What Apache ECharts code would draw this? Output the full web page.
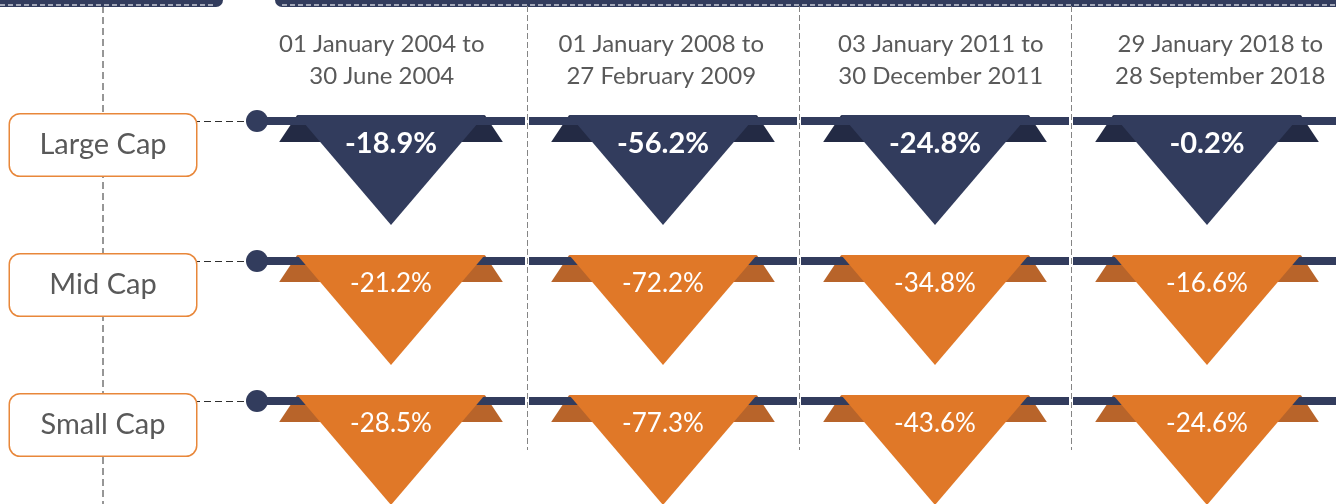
<!DOCTYPE html>
<html lang="en">
<head>
    <meta charset="UTF-8">
    <title>Drawdowns by market cap</title>
    <script src="https://cdn.jsdelivr.net/npm/echarts@6/dist/echarts.min.js"></script>
    <style>
        html, body { margin: 0; padding: 0; background: #fff; overflow: hidden; }
        /* a bit wider than the window so the last column runs off the right edge like the original */
        #chart1 { width: 1360px; height: 504px; }
    </style>
</head>
<body>
<div id="chart1"></div>
<script type="text/javascript">

    var periods = [
        '01 January 2004 to\n30 June 2004',
        '01 January 2008 to\n27 February 2009',
        '03 January 2011 to\n30 December 2011',
        '29 January 2018 to\n28 September 2018'
    ];
    var caps = ['Large Cap', 'Mid Cap', 'Small Cap'];
    var largeCap = [-18.9, -56.2, -24.8, -0.2];
    var midCap = [-21.2, -72.2, -34.8, -16.6];
    var smallCap = [-28.5, -77.3, -43.6, -24.6];

    var NAVY = '#323c5d';
    var NAVY_DARK = '#232a44';
    var ORANGE = '#e07828';
    var ORANGE_DARK = '#b8642a';
    var GREY = '#595959';

    function toCells(values, row) {
        return values.map(function (v, i) { return [i, row, v]; });
    }

    // one inverted "pennant" per cell, hanging from the row line
    function renderCell(fill, ear, font) {
        return function (params, api) {
            var col = api.value(0), v = api.value(2);
            var p = api.coord([col, api.value(1)]);
            var bw = api.size([1, 0])[0];
            var cx = p[0], ly = p[1];
            var left = cx - bw / 2;
            var hw = bw * 0.345;
            var kids = [
                {type: 'polygon', shape: {points: [[cx - hw - 18, ly + 21], [cx - hw, ly - 6], [cx - hw + 34, ly + 21]]}, style: {fill: ear}},
                {type: 'polygon', shape: {points: [[cx + hw + 18, ly + 21], [cx + hw, ly - 6], [cx + hw - 34, ly + 21]]}, style: {fill: ear}},
                {type: 'rect', shape: {x: left + 2, y: ly - 4, width: bw - 4, height: 8}, style: {fill: NAVY}},
                {type: 'polygon', shape: {points: [[cx - hw, ly - 6], [cx + hw, ly - 6], [cx, ly + 104]]}, style: {fill: fill}},
                {type: 'text', style: {text: v.toFixed(1) + '%', x: cx, y: ly + 23, align: 'center', verticalAlign: 'middle', fill: '#fff', font: font}}
            ];
            if (col === 0) {
                kids.push({type: 'circle', shape: {cx: left + 2, cy: ly, r: 11}, style: {fill: NAVY}});
            }
            return {type: 'group', children: kids};
        };
    }

    var myChart1 = echarts.init(document.getElementById('chart1'));
    myChart1.setOption({
        backgroundColor: '#fff',
        animation: false,
        graphic: [
            {type: 'line', z: -5, shape: {x1: 103, y1: 6, x2: 103, y2: 504}, style: {stroke: '#2e2e2e', lineWidth: 1, lineDash: [7, 4]}},
            {type: 'rect', shape: {x: -10, y: -10, width: 233, height: 17, r: [0, 0, 7, 7]}, style: {fill: NAVY}},
            {type: 'rect', shape: {x: 275, y: -10, width: 1100, height: 17, r: [0, 0, 7, 7]}, style: {fill: NAVY}},
            {type: 'line', shape: {x1: 0, y1: 5, x2: 216, y2: 5}, style: {stroke: '#c9ccd6', lineWidth: 1.5, lineDash: [5, 3]}},
            {type: 'line', shape: {x1: 282, y1: 5, x2: 1360, y2: 5}, style: {stroke: '#c9ccd6', lineWidth: 1.5, lineDash: [5, 3]}}
        ],
        grid: [
            {left: 255, width: 1088, top: 51, height: 420},
            {left: 255, width: 1088, top: 6, height: 444},
            // the date headers sit on a slightly wider spacing than the columns
            {left: 242, width: 1119, top: 6, height: 444}
        ],
        xAxis: [
            {type: 'category', gridIndex: 0, data: periods, show: false},
            {
                type: 'category', gridIndex: 1, data: periods, position: 'top',
                axisLine: {show: false}, axisTick: {show: false}, axisLabel: {show: false},
                splitLine: {
                    show: true,
                    interval: function (i) { return i > 0; },
                    lineStyle: {color: '#858585', width: 1, type: [6, 3]}
                }
            },
            {
                type: 'category', gridIndex: 2, data: periods, position: 'top',
                axisLine: {show: false}, axisTick: {show: false}, splitLine: {show: false},
                axisLabel: {interval: 0, margin: -86, fontFamily: 'Lato', fontSize: 24, lineHeight: 32, color: GREY}
            }
        ],
        yAxis: [
            {
                type: 'category', gridIndex: 0, data: caps, inverse: true,
                axisLine: {show: false},
                axisTick: {show: true, alignWithLabel: true, length: 59, lineStyle: {color: '#2e2e2e', type: [7, 4]}},
                axisLabel: {
                    interval: 0, margin: 59, padding: [48, 0, 0, 0],
                    formatter: function (v) { return '{box|' + v + '}'; },
                    rich: {
                        box: {
                            width: 186, height: 61, lineHeight: 61, align: 'center',
                            borderColor: '#e8873a', borderWidth: 1.5, borderRadius: 10,
                            backgroundColor: '#fff', color: GREY, fontFamily: 'Lato', fontSize: 29
                        }
                    }
                },
                splitLine: {show: false}
            },
            {type: 'value', gridIndex: 1, show: false},
            {type: 'value', gridIndex: 2, show: false}
        ],
        series: [
            {type: 'custom', name: caps[0], xAxisIndex: 0, yAxisIndex: 0, data: toCells(largeCap, 0), renderItem: renderCell(NAVY, NAVY_DARK, 'bold 29px Lato')},
            {type: 'custom', name: caps[1], xAxisIndex: 0, yAxisIndex: 0, data: toCells(midCap, 1), renderItem: renderCell(ORANGE, ORANGE_DARK, '26px Lato')},
            {type: 'custom', name: caps[2], xAxisIndex: 0, yAxisIndex: 0, data: toCells(smallCap, 2), renderItem: renderCell(ORANGE, ORANGE_DARK, '26px Lato')}
        ]
    });

</script>
</body>
</html>
